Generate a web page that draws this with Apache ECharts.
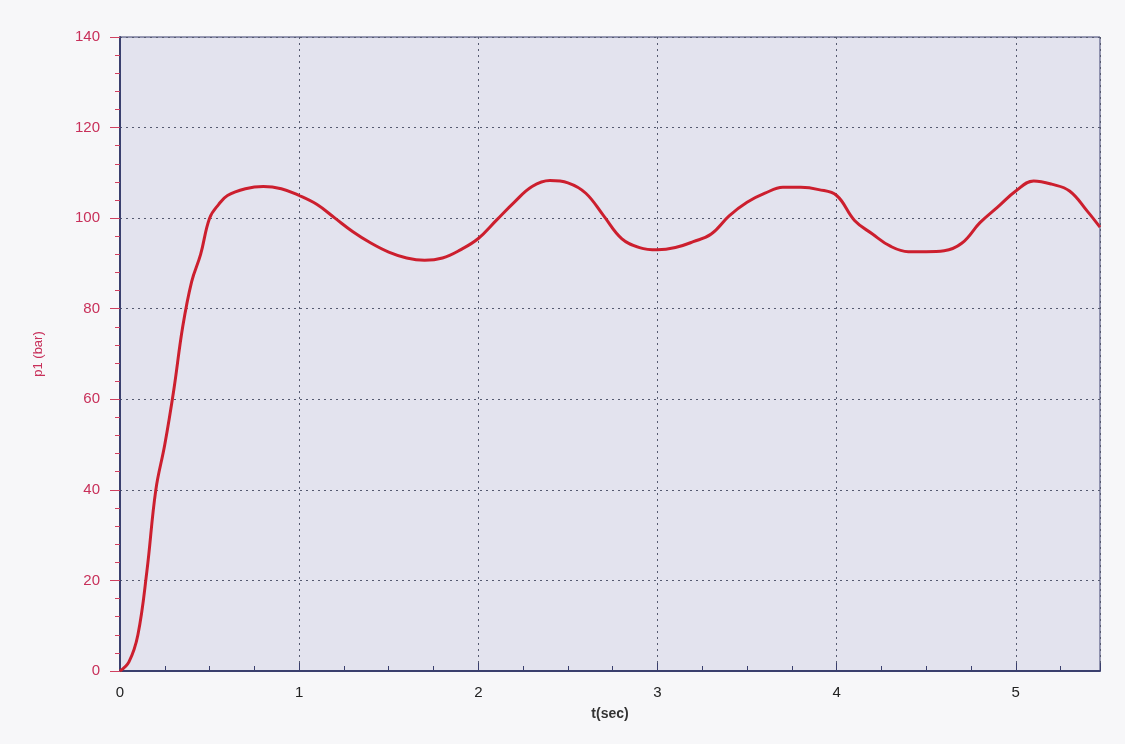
<!DOCTYPE html>
<html><head><meta charset="utf-8">
<script src="https://cdn.jsdelivr.net/npm/echarts@6/dist/echarts.min.js"></script>
<style>html,body{margin:0;background:#f7f7f9}#c{width:1125px;height:744px}</style>
</head><body><div id="c"></div>
<script>
const tValues = [0,0.05,0.1,0.15,0.2,0.25,0.3,0.35,0.4,0.45,0.5,0.55,0.6,0.7,0.8,0.9,1.0,1.1,1.2,1.3,1.4,1.5,1.6,1.7,1.8,1.9,2.0,2.1,2.2,2.3,2.4,2.5,2.6,2.7,2.8,2.9,3.0,3.1,3.2,3.3,3.4,3.5,3.6,3.7,3.8,3.9,4.0,4.1,4.2,4.3,4.4,4.5,4.6,4.7,4.8,4.9,5.0,5.1,5.2,5.3,5.4,5.47]
const pValues = [0,2,8,22,40,50,62,76,86,92,100,103,105,106.5,107,106.5,105,103,100,97,94.5,92.5,91.2,90.7,91.2,93,95.5,99.5,103.5,107,108.3,107.8,105.5,100.5,95.5,93.5,93,93.5,94.8,96.5,100.5,103.5,105.5,106.8,106.8,106.3,105,99.5,96.5,93.8,92.6,92.6,92.8,94.5,99,102.5,106,108.2,107.5,106,101.5,98]
const xTicks = [0,1,2,3,4,5]
const yTicks = [0,20,40,60,80,100,120,140]

const chart = echarts.init(document.getElementById('c'))
chart.setOption({
  animation: false,
  grid: {left: 120, right: 25, top: 37, bottom: 73, backgroundColor: '#e3e3ee', show: true, borderColor: '#3a3f6e', borderWidth: 1},
  xAxis: {
    type: 'value', min: 0, max: 5.47, interval: 1,
    name: 't(sec)', nameLocation: 'middle', nameGap: 36,
    nameTextStyle: {color: '#333', fontWeight: 'bold', fontSize: 14, fontFamily: 'Liberation Sans'},
    axisLine: {lineStyle: {color: '#3a3f6e', width: 2}},
    axisTick: {inside: true, length: 8, lineStyle: {color: '#3a3f6e'}},
    minorTick: {show: true, splitNumber: 4, length: 5, lineStyle: {color: '#3a3f6e'}},
    axisLabel: {color: '#222', fontSize: 15, margin: 14, fontFamily: 'Liberation Sans',
      formatter: v => xTicks.includes(v) ? String(v) : ''},
    splitLine: {lineStyle: {color: '#555a70', type: [2, 4]}}
  },
  yAxis: {
    type: 'value', min: 0, max: 140, interval: 20,
    name: 'p1 (bar)', nameLocation: 'middle', nameGap: 75,
    nameTextStyle: {color: '#c8305a', fontSize: 13, fontFamily: 'Liberation Sans'},
    axisLine: {show: true, lineStyle: {color: '#3a3f6e', width: 2}},
    axisTick: {length: 10, lineStyle: {color: '#d04060'}},
    minorTick: {show: true, splitNumber: 5, length: 5, lineStyle: {color: '#d04060'}},
    axisLabel: {color: '#c8305a', fontSize: 15, margin: 20, fontFamily: 'Liberation Sans',
      formatter: v => yTicks.includes(v) ? String(v) : ''},
    splitLine: {lineStyle: {color: '#555a70', type: [2, 4]}}
  },
  series: [{
    type: 'line', smooth: 0.4, symbol: 'none',
    data: tValues.map((t, i) => [t, pValues[i]]),
    lineStyle: {color: '#cc1f2e', width: 3}
  }]
})
</script></body></html>
